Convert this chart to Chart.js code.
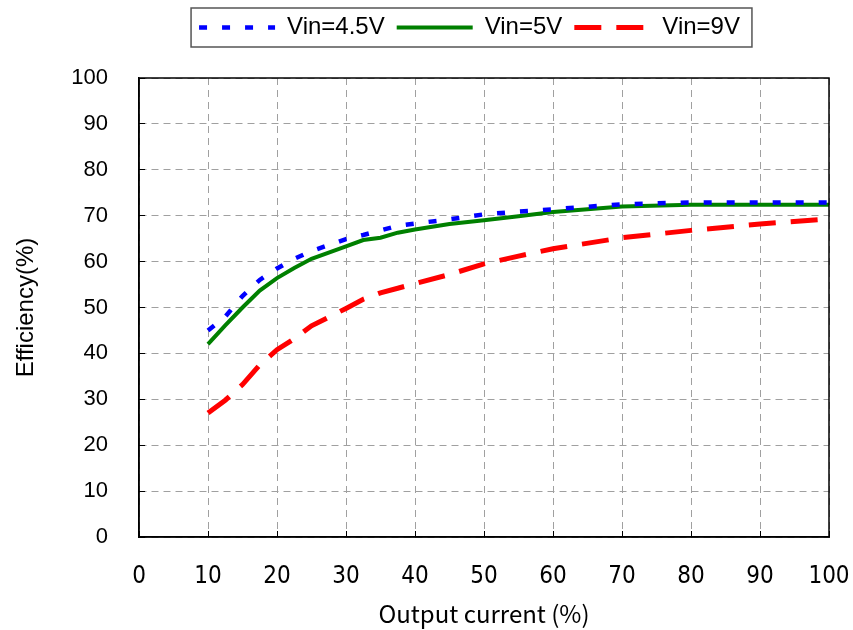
<!DOCTYPE html>
<html>
<head>
<meta charset="utf-8">
<title>Efficiency vs Output current</title>
<script src="https://cdn.jsdelivr.net/npm/chart.js@4.4.1/dist/chart.umd.min.js"></script>
<style>
    html, body { margin: 0; padding: 0; background: #ffffff; }
    canvas { display: block; }
</style>
</head>
<body>
<canvas id="effChart" width="853" height="630"></canvas>
<script>
// 출력 전류(%)별 효율 데이터
const currentPct = [10, 12.5, 15, 17.5, 20, 22.5, 25, 30, 32.5, 35, 37.5, 40, 45, 50, 55, 60, 70, 80, 90, 100];
const effVin45 = [45, 48, 52.5, 56, 58.5, 60.6, 62.3, 64.9, 65.8, 66.8, 67.8, 68.3, 69.2, 70.3, 70.9, 71.4, 72.5, 72.9, 72.9, 72.9];
const effVin5 = [42, 46.1, 50, 53.7, 56.4, 58.6, 60.6, 63.3, 64.7, 65.2, 66.3, 67.0, 68.2, 69.0, 69.9, 70.8, 72.0, 72.4, 72.4, 72.4];
const effVin9 = [27, 29.8, 33.2, 37.5, 40.8, 43.2, 46.0, 49.8, 51.8, 53.2, 54.2, 55.2, 57.2, 59.5, 61.2, 62.8, 65.2, 66.8, 68.2, 69.3];

const seriesLabels = ['Vin=4.5V', 'Vin=5V', 'Vin=9V'];
const xTicks = [0, 10, 20, 30, 40, 50, 60, 70, 80, 90, 100];
const yTicks = [0, 10, 20, 30, 40, 50, 60, 70, 80, 90, 100];

function toPoints(ys) {
    return currentPct.map((x, i) => ({ x: x, y: ys[i] }));
}

// 범례 위치 조정 + 테두리
const legendBoxPlugin = {
    id: 'legendBox',
    afterLayout(chart) {
        const lg = chart.legend;
        if (!lg) return;
        const dx = 469.5 - (lg.left + lg.right) / 2;
        const dy = 3.5 - lg.top;
        lg.left += dx; lg.right += dx;
        lg.top += dy; lg.bottom += dy;
    },
    afterDraw(chart) {
        const lg = chart.legend;
        if (!lg || !lg.legendHitBoxes.length) return;
        const hb = lg.legendHitBoxes;
        const last = hb[hb.length - 1];
        const left = hb[0].left - 8;
        const right = last.left + last.width + 12;
        const cy = hb[0].top + hb[0].height / 2;
        const ctx = chart.ctx;
        ctx.save();
        ctx.strokeStyle = '#555555';
        ctx.lineWidth = 1.5;
        ctx.strokeRect(left, cy - 19.5, right - left, 39);
        ctx.restore();
    }
};

// 플롯 영역 테두리
const frameBorderPlugin = {
    id: 'frameBorder',
    afterDatasetsDraw(chart) {
        const a = chart.chartArea;
        const ctx = chart.ctx;
        ctx.save();
        ctx.strokeStyle = '#000000';
        ctx.lineWidth = 1.5;
        ctx.strokeRect(a.left, a.top, a.right - a.left, a.bottom - a.top);
        ctx.restore();
    }
};

new Chart(document.getElementById('effChart'), {
    type: 'line',
    data: {
        datasets: [
            {
                label: seriesLabels[0],
                data: toPoints(effVin45),
                borderColor: '#0000ff',
                backgroundColor: '#0000ff',
                borderWidth: 4.5,
                borderDash: [8, 15],
                pointRadius: 0,
                tension: 0,
                fill: false
            },
            {
                label: seriesLabels[1],
                data: toPoints(effVin5),
                borderColor: '#008000',
                backgroundColor: '#008000',
                borderWidth: 4,
                pointRadius: 0,
                tension: 0,
                fill: false
            },
            {
                label: seriesLabels[2],
                data: toPoints(effVin9),
                borderColor: '#ff0000',
                backgroundColor: '#ff0000',
                borderWidth: 5,
                borderDash: [27, 15],
                pointRadius: 0,
                tension: 0,
                fill: false
            }
        ]
    },
    options: {
        responsive: false,
        animation: false,
        layout: {
            padding: { top: 32, right: 24, bottom: 0, left: 0 }
        },
        plugins: {
            legend: {
                position: 'top',
                labels: {
                    usePointStyle: true,
                    pointStyle: 'line',
                    pointStyleWidth: 76,
                    padding: 12,
                    color: '#000000',
                    font: { family: '"Liberation Sans", Arial, sans-serif', size: 24 },
                    generateLabels: function (chart) {
                        const items = Chart.defaults.plugins.legend.labels.generateLabels(chart);
                        items.forEach(item => {
                            const ds = chart.data.datasets[item.datasetIndex];
                            item.lineDash = ds.borderDash || [];
                            item.lineWidth = ds.borderWidth;
                            item.strokeStyle = ds.borderColor;
                        });
                        return items;
                    }
                }
            },
            tooltip: { enabled: false }
        },
        scales: {
            x: {
                type: 'linear',
                min: 0,
                max: 100,
                afterBuildTicks: function (scale) {
                    scale.ticks = xTicks.map(v => ({ value: v }));
                },
                afterFit: function (scale) {
                    scale.height = 93;
                    scale.paddingLeft = 0;
                    scale.paddingRight = 0;
                },
                ticks: {
                    padding: 31,
                    color: '#000000',
                    maxRotation: 0,
                    font: { family: '"Liberation Sans Narrow", "DejaVu Sans Condensed", "Noto Sans CJK JP", sans-serif', size: 24 }
                },
                grid: {
                    color: '#a0a0a0',
                    lineWidth: 1,
                    tickLength: -6,
                    tickColor: '#000000',
                    tickWidth: 1
                },
                border: { display: true, color: '#000000', width: 1.5, dash: [7, 5] },
                title: {
                    display: true,
                    text: 'Output current (%)',
                    color: '#000000',
                    padding: { top: 0, bottom: 2 },
                    font: { family: '"Noto Sans CJK JP", sans-serif', size: 24 }
                }
            },
            y: {
                type: 'linear',
                min: 0,
                max: 100,
                afterBuildTicks: function (scale) {
                    scale.ticks = yTicks.map(v => ({ value: v }));
                },
                afterFit: function (scale) { scale.width = 139; },
                ticks: {
                    padding: 37,
                    color: '#000000',
                    font: { family: '"Liberation Sans", Arial, sans-serif', size: 22 }
                },
                grid: {
                    color: '#a0a0a0',
                    lineWidth: 1,
                    tickLength: -6,
                    tickColor: '#000000',
                    tickWidth: 1
                },
                border: { display: true, color: '#000000', width: 1.5, dash: [7, 5] },
                title: {
                    display: true,
                    text: 'Efficiency(%)',
                    color: '#000000',
                    padding: { top: 12, bottom: 0 },
                    font: { family: '"Liberation Sans", Arial, sans-serif', size: 24 }
                }
            }
        }
    },
    plugins: [legendBoxPlugin, frameBorderPlugin]
});
</script>
</body>
</html>
